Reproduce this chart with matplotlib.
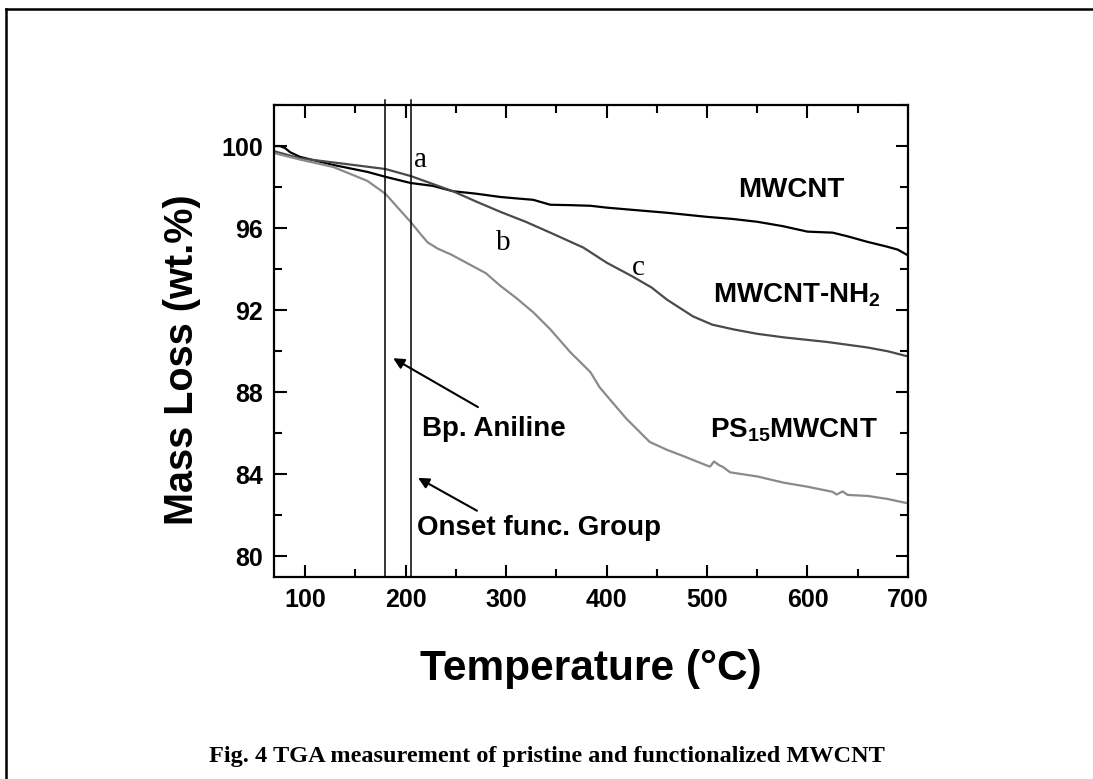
"""TGA curves of pristine and functionalized MWCNT."""

import matplotlib
matplotlib.use("Agg")
import matplotlib.pyplot as plt
from matplotlib.lines import Line2D
from matplotlib.ticker import MultipleLocator

plt.rcParams["font.family"] = ["Liberation Sans", "DejaVu Sans"]
plt.rcParams["mathtext.fontset"] = "custom"
plt.rcParams["mathtext.rm"] = "Liberation Sans:bold"
plt.rcParams["mathtext.it"] = "Liberation Sans:bold"
plt.rcParams["mathtext.bf"] = "Liberation Sans:bold"

# temperature (°C) / residual mass (wt.%)
mwcnt_t = [69, 75, 80, 85, 95, 128, 162, 180, 205, 227, 247, 270, 294, 310,
           327, 344, 364, 384, 400, 426, 460, 500, 525, 550, 575, 600, 625,
           640, 659, 679, 690, 699]
mwcnt_w = [100.0, 100.0, 99.9, 99.7, 99.47, 99.08, 98.74, 98.5, 98.2, 98.06,
           97.8, 97.68, 97.52, 97.45, 97.38, 97.14, 97.12, 97.09, 97.0, 96.89,
           96.75, 96.55, 96.45, 96.31, 96.1, 95.83, 95.78, 95.6, 95.34, 95.1,
           94.95, 94.7]

nh2_t = [69, 95, 130, 180, 205, 230, 247, 270, 294, 320, 344, 377, 400, 426,
         445, 460, 486, 505, 526, 550, 576, 620, 659, 680, 699]
nh2_w = [99.75, 99.4, 99.19, 98.88, 98.54, 98.1, 97.8, 97.3, 96.8, 96.3, 95.78,
         95.05, 94.32, 93.64, 93.1, 92.52, 91.7, 91.3, 91.07, 90.85, 90.68,
         90.45, 90.19, 90.0, 89.76]

ps_t = [69, 95, 128, 162, 180, 194, 205, 214, 222, 232, 245, 261, 280, 294,
        310, 327, 344, 364, 384, 393, 403, 420, 443, 460, 476, 500, 503, 507,
        512, 516, 523, 550, 576, 600, 625, 629, 635, 640, 660, 680, 699]
ps_w = [99.66, 99.34, 98.98, 98.3, 97.67, 96.9, 96.3, 95.76, 95.3, 95.0, 94.72,
        94.3, 93.8, 93.2, 92.6, 91.9, 91.07, 89.95, 88.98, 88.25, 87.67, 86.7,
        85.58, 85.2, 84.9, 84.43, 84.38, 84.63, 84.45, 84.36, 84.1, 83.9, 83.6,
        83.4, 83.15, 83.02, 83.17, 83.0, 82.95, 82.8, 82.6]

bp_aniline = 179
onset_func = 205

fig = plt.figure(figsize=(10.93, 7.79), dpi=100)
ax = fig.add_axes([0.2507, 0.2593, 0.58, 0.6059])

ax.plot(mwcnt_t, mwcnt_w, color="black", lw=1.6)
ax.plot(nh2_t, nh2_w, color="#4a4a4a", lw=1.6)
ax.plot(ps_t, ps_w, color="#8a8a8a", lw=1.6)

for t in (bp_aniline, onset_func):
    ax.axvline(t, ymin=0, ymax=1.01, color="black", lw=1.1, clip_on=False)

ax.set_xlim(69, 700)
ax.set_ylim(79, 102)
ax.xaxis.set_major_locator(MultipleLocator(100))
ax.xaxis.set_minor_locator(MultipleLocator(50))
ax.yaxis.set_major_locator(MultipleLocator(4))
ax.yaxis.set_minor_locator(MultipleLocator(2))
ax.tick_params(which="both", direction="in", top=True, right=True, width=1.5)
ax.tick_params(which="major", length=9, labelsize=18, pad=8)
ax.tick_params(which="minor", length=5.5)
for lab in ax.get_xticklabels() + ax.get_yticklabels():
    lab.set_fontweight("bold")
for sp in ax.spines.values():
    sp.set_linewidth(1.6)

ax.set_xlabel("Temperature (°C)", fontsize=30.5, fontweight="bold")
ax.set_ylabel("Mass Loss (wt.%)", fontsize=28.5, fontweight="bold")
ax.xaxis.set_label_coords(0.5, -0.152)
ax.yaxis.set_label_coords(-0.115, 0.46)

serif = ["Liberation Serif", "DejaVu Serif"]
ax.text(214.4, 99.3, "a", family=serif, fontsize=21, ha="center", va="center")
ax.text(297, 95.3, "b", family=serif, fontsize=21, ha="center", va="center")
ax.text(431.3, 94.08, "c", family=serif, fontsize=21, ha="center", va="center")

lab_kw = dict(fontsize=20, fontweight="bold", ha="left", va="baseline")
ax.text(530.8, 97.52, "MWCNT", **lab_kw)
ax.text(506, 92.38, "MWCNT-NH$_2$", **lab_kw)
ax.text(503, 85.78, "PS$_{15}$MWCNT", **lab_kw)
ax.text(216.4, 85.87, "Bp. Aniline", fontsize=20, fontweight="bold",
        ha="left", va="baseline")
ax.text(211.4, 81.07, "Onset func. Group", fontsize=20, fontweight="bold",
        ha="left", va="baseline")

arrow = dict(arrowstyle="-|>", color="black", lw=1.5, mutation_scale=16,
             shrinkA=0, shrinkB=0)
ax.annotate("", xy=(187.6, 89.66), xytext=(272, 87.28), arrowprops=arrow)
ax.annotate("", xy=(212.4, 83.83), xytext=(271, 82.23), arrowprops=arrow)

fig.text(0.5, 1 - 762 / 779, "Fig. 4 TGA measurement of pristine and functionalized MWCNT",
         family=serif, fontsize=17.5, fontweight="bold", ha="center", va="baseline")

# page frame (top and left edges only)
y_top = 1 - 9 / 779
x_left = 5.5 / 1093
fig.add_artist(Line2D([x_left, 1], [y_top, y_top], color="black", lw=1.8,
                      transform=fig.transFigure))
fig.add_artist(Line2D([x_left, x_left], [0, y_top], color="black", lw=1.8,
                      transform=fig.transFigure))

fig.savefig("out.png", dpi=100)
